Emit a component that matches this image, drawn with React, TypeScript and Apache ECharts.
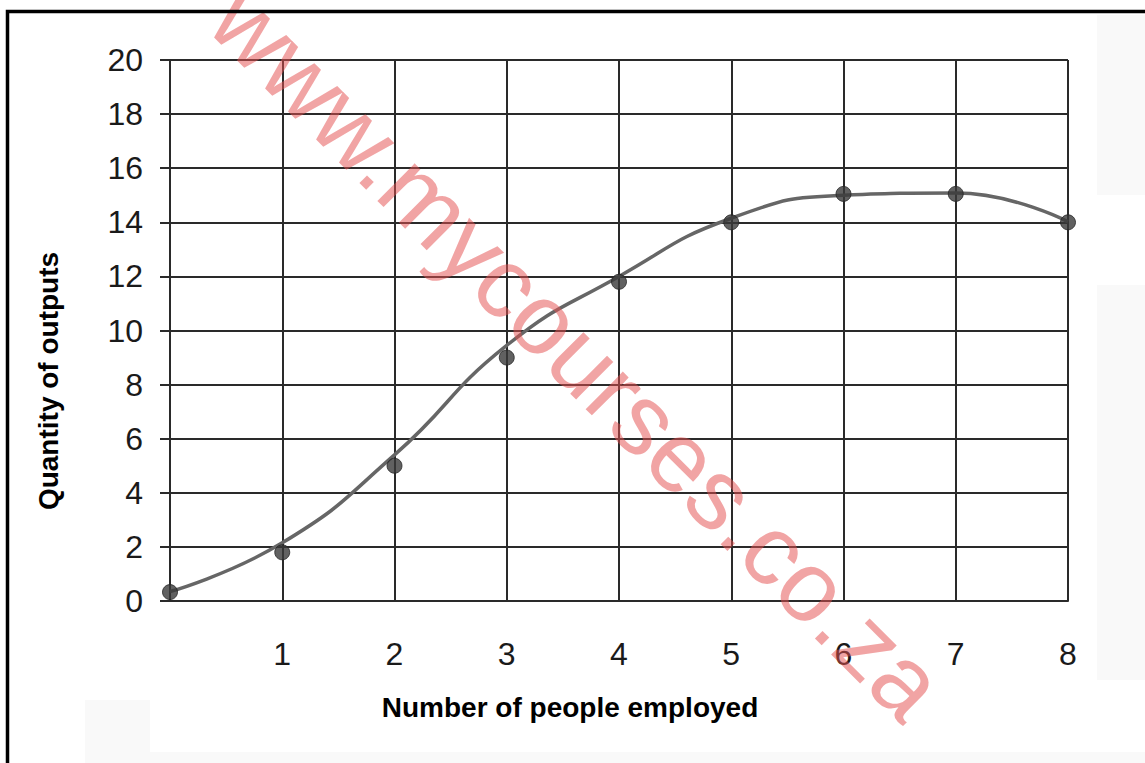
import React, { useEffect, useRef } from "react";
import * as echarts from "echarts";

// Data
const peopleEmployed = [0, 1, 2, 3, 4, 5, 6, 7, 8];
const outputPoints = [0.33, 1.8, 5.0, 9.0, 11.8, 14.0, 15.05, 15.05, 14.0];
const curveValues = [0.35, 2.15, 5.4, 9.45, 12.0, 14.15, 15.0, 15.08, 14.02];
const yTicks = [0, 2, 4, 6, 8, 10, 12, 14, 16, 18, 20];
const xTitle = "Number of people employed";
const yTitle = "Quantity of outputs";
const watermark = "www.mycourses.co.za";

const FONT = "'Liberation Sans', Arial, Helvetica, sans-serif";

export default function App() {
  const ref = useRef<HTMLDivElement>(null);

  useEffect(() => {
    if (!ref.current) return;
    const chart = echarts.init(ref.current, undefined, { renderer: "svg" });
    const gridColor = "#2a2a2a";
    chart.setOption({
      animation: false,
      backgroundColor: "#ffffff",
      grid: { left: 170, right: 77, top: 60, bottom: 162, containLabel: false },
      xAxis: {
        type: "value",
        min: 0,
        max: 8,
        interval: 1,
        axisLine: { show: true, lineStyle: { color: gridColor, width: 2 } },
        axisTick: { show: false },
        splitLine: { show: true, lineStyle: { color: gridColor, width: 2 } },
        axisLabel: {
          show: true,
          margin: 37,
          fontSize: 32,
          fontFamily: FONT,
          color: "#1a1a1a",
          formatter: (v: number) => (v === 0 ? "" : String(v)),
        },
      },
      yAxis: {
        type: "value",
        min: yTicks[0],
        max: yTicks[yTicks.length - 1],
        interval: 2,
        axisLine: { show: true, lineStyle: { color: gridColor, width: 2 } },
        axisTick: { show: true, length: 10, lineStyle: { color: gridColor, width: 2 } },
        splitLine: { show: true, lineStyle: { color: gridColor, width: 2 } },
        axisLabel: {
          show: true,
          margin: 27,
          fontSize: 32,
          fontFamily: FONT,
          color: "#1a1a1a",
        },
      },
      series: [
        {
          type: "line",
          data: peopleEmployed.map((x, i) => [x, curveValues[i]]),
          smooth: 0.5,
          showSymbol: false,
          lineStyle: { color: "#666666", width: 3.5 },
          z: 3,
        },
        {
          type: "scatter",
          data: peopleEmployed.map((x, i) => [x, outputPoints[i]]),
          symbol: "circle",
          symbolSize: 15,
          itemStyle: { color: "#3a3a3a", borderColor: "#262626", borderWidth: 1 },
          z: 4,
        },
      ],
      graphic: [
        {
          type: "rect",
          silent: true,
          z: -10,
          shape: { x: 1097, y: 15, width: 48, height: 180 },
          style: { fill: "#f9f9f9" },
        },
        {
          type: "rect",
          silent: true,
          z: -10,
          shape: { x: 1097, y: 285, width: 48, height: 395 },
          style: { fill: "#f9f9f9" },
        },
        {
          type: "rect",
          silent: true,
          z: -10,
          shape: { x: 85, y: 700, width: 65, height: 63 },
          style: { fill: "#f9f9f9" },
        },
        {
          type: "rect",
          silent: true,
          z: -10,
          shape: { x: 150, y: 752, width: 995, height: 11 },
          style: { fill: "#f9f9f9" },
        },
        {
          type: "rect",
          silent: true,
          z: 100,
          shape: { x: 7.5, y: 11.5, width: 1300, height: 900 },
          style: { fill: "none", stroke: "#000", lineWidth: 3.5 },
        },
        {
          type: "text",
          silent: true,
          z: 50,
          x: 570,
          y: 707,
          style: {
            text: xTitle,
            font: `bold 28px ${FONT}`,
            fill: "#000",
            align: "center",
            verticalAlign: "middle",
          },
        },
        {
          type: "text",
          silent: true,
          z: 50,
          x: 48,
          y: 381,
          rotation: Math.PI / 2,
          style: {
            text: yTitle,
            font: `bold 28px ${FONT}`,
            fill: "#000",
            align: "center",
            verticalAlign: "middle",
          },
        },
        {
          type: "text",
          silent: true,
          z: 60,
          x: 578,
          y: 352,
          rotation: -Math.PI / 4,
          style: {
            text: watermark,
            font: `100px ${FONT}`,
            fill: "rgba(228, 80, 80, 0.52)",
            align: "center",
            verticalAlign: "middle",
          },
        },
      ],
    });
    return () => chart.dispose();
  }, []);

  return (
    <div
      ref={ref}
      style={{ position: "absolute", left: 0, top: 0, width: 1145, height: 763 }}
    />
  );
}
